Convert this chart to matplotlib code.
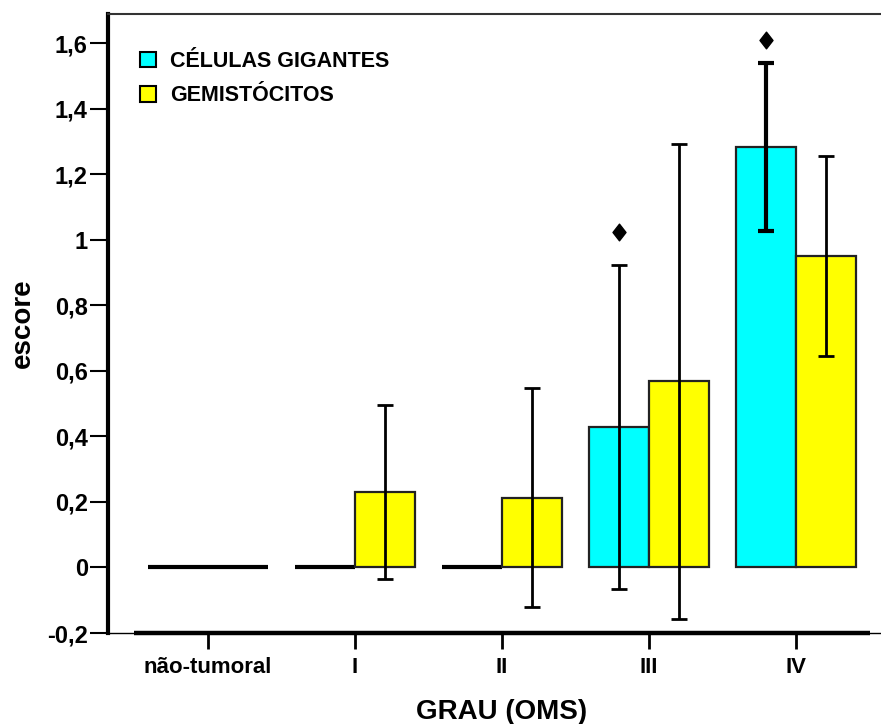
import matplotlib
matplotlib.use("Agg")
import matplotlib.pyplot as plt
from matplotlib.patches import Patch
from matplotlib.path import Path
import numpy as np

plt.rcParams['font.family'] = ['Liberation Sans', 'DejaVu Sans']
plt.rcParams['font.weight'] = 'bold'

categories = ["não-tumoral", "I", "II", "III", "IV"]
series_names = ["CÉLULAS GIGANTES", "GEMISTÓCITOS"]
cel_gig = [0.0, 0.0, 0.0, 0.428, 1.283]
cel_gig_err = [0.0, 0.0, 0.0, 0.495, 0.257]
gemisto = [0.0, 0.23, 0.213, 0.569, 0.950]
gemisto_err = [0.0, 0.265, 0.335, 0.725, 0.305]
diamond_y = [None, None, None, 1.025, 1.610]   # markers above CÉLULAS GIGANTES
y_ticks = [-0.2, 0.0, 0.2, 0.4, 0.6, 0.8, 1.0, 1.2, 1.4, 1.6]

W, H = 881, 724
fig = plt.figure(figsize=(W / 100, H / 100), dpi=100)
ax = fig.add_axes([108 / W, 1 - 633 / H, 1 - 108 / W, (633 - 14) / H])

x = np.arange(len(categories))
bw = 0.41
colors = ["#00FFFF", "#FFFF00"]
vals = [cel_gig, gemisto]
errs = [cel_gig_err, gemisto_err]
offs = [-bw / 2, bw / 2]

for s in range(2):
    for i in range(len(categories)):
        v = vals[s][i]
        if v == 0:
            ax.bar(x[i] + offs[s], 0, bw, color=colors[s], edgecolor="black",
                   linewidth=3, zorder=2)
        else:
            ax.bar(x[i] + offs[s], v, bw, color=colors[s], edgecolor="#222222",
                   linewidth=1.6, zorder=2)

for s in range(2):
    for i in range(len(categories)):
        v, e = vals[s][i], errs[s][i]
        if v > 0:
            lw = 3 if (s == 0 and i == 4) else 2
            ax.errorbar(x[i] + offs[s], v, yerr=e, fmt="none", ecolor="black",
                        elinewidth=lw, capsize=8 * 0.72, capthick=lw, zorder=3)

diamond = Path([(0, 1), (0.78, 0), (0, -1), (-0.78, 0), (0, 1)],
               [Path.MOVETO, Path.LINETO, Path.LINETO, Path.LINETO, Path.CLOSEPOLY])
for i, dy in enumerate(diamond_y):
    if dy is not None:
        ax.plot(x[i] + offs[0], dy, marker=diamond, markersize=12,
                color="black", linestyle="none", zorder=4)

ax.set_xlim(-0.68, 4.578)
ax.set_ylim(-0.2, 1.69)

# thick category axis line
ax.plot([-0.5, 4.5], [-0.2, -0.2], color="black", linewidth=3.2,
        solid_capstyle="butt", clip_on=False, zorder=5)

ax.spines['right'].set_visible(False)
ax.spines['top'].set_linewidth(1.5)
ax.spines['top'].set_color("#333333")
ax.spines['left'].set_linewidth(3)
ax.spines['bottom'].set_linewidth(1)

def fmt(v):
    if abs(v - round(v)) < 1e-9:
        return f"{int(round(v))}"
    return f"{v:.1f}".replace(".", ",")

ax.set_yticks(y_ticks)
ax.set_yticklabels([fmt(v) for v in y_ticks], fontsize=17, fontweight="bold")
ax.set_xticks(x)
ax.set_xticklabels(categories, fontsize=16, fontweight="bold")
ax.tick_params(axis="y", direction="out", length=13, width=1.5, pad=1.5)
ax.tick_params(axis="x", direction="out", length=11.5, width=2, pad=6)

ax.set_xlabel("GRAU (OMS)", fontsize=20, fontweight="bold", labelpad=15)
ax.xaxis.label.set_x((502 - 108) / (W - 108))
ax.set_ylabel("escore", fontsize=20, fontweight="bold", labelpad=8)

handles = [Patch(facecolor=colors[s], edgecolor="black", linewidth=1.5,
                 label=series_names[s]) for s in range(2)]
leg = ax.legend(handles=handles, loc="upper left",
                bbox_to_anchor=(140 / W, 1 - 51 / H), bbox_transform=fig.transFigure,
                frameon=False, borderpad=0, borderaxespad=0,
                handlelength=0.75, handleheight=0.75, handletextpad=0.65,
                labelspacing=0.62, prop={"weight": "bold", "size": 15.5})

fig.savefig("out.png", dpi=100)
